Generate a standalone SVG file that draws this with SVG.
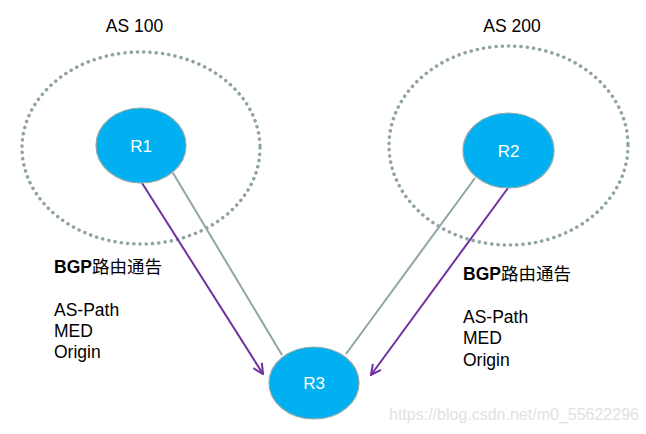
<svg xmlns="http://www.w3.org/2000/svg" width="646" height="434" viewBox="0 0 646 434">
<style>
.as{fill:none;stroke:#8FA3A5;stroke-width:3.5;stroke-dasharray:0.1 6.2;stroke-linecap:round}
.node{fill:#00B0F0;stroke:#95A9AA;stroke-width:1.2}
.nl{font-family:"Liberation Sans",Arial,sans-serif;font-size:17px;fill:#fff;text-anchor:middle}
.t{font-family:"Liberation Sans",Arial,sans-serif;font-size:17.5px;fill:#000}
.b{font-weight:bold}
.cjk{font-family:"Noto Sans CJK SC",sans-serif;font-weight:normal}
.link{stroke:#8FA5A6;stroke-width:2;fill:none}
.adv{stroke:#7030A0;stroke-width:2;fill:none;marker-end:url(#ah)}
.wm{font-family:"Liberation Sans",Arial,sans-serif;font-size:16px;fill:#E2E2E2}
</style>
<defs>
<marker id="ah" viewBox="0 0 12 12" refX="11" refY="6" markerWidth="12" markerHeight="12" markerUnits="userSpaceOnUse" orient="auto">
<path d="M1,1 L11,6 L1,11" fill="none" stroke="#7030A0" stroke-width="2"/>
</marker>
</defs>
<rect width="646" height="434" fill="#fff"/>
<g id="as100">
<ellipse class="as" cx="141" cy="148" rx="119" ry="96"/>
<text class="t" x="134.5" y="32" text-anchor="middle">AS 100</text>
</g>
<g id="as200">
<ellipse class="as" cx="508.5" cy="145.5" rx="119.5" ry="99.5"/>
<text class="t" x="512" y="32" text-anchor="middle">AS 200</text>
</g>
<g id="connectors">
<line class="link" x1="173" y1="173" x2="282" y2="355"/>
<line class="link" x1="475" y1="178" x2="346" y2="354"/>
<line class="adv" x1="142" y1="183" x2="263" y2="374"/>
<line class="adv" x1="508" y1="188" x2="371" y2="375"/>
</g>
<g id="R1">
<ellipse class="node" cx="141" cy="145.5" rx="45" ry="37.5"/>
<text class="nl" x="141" y="151.5">R1</text>
</g>
<g id="R2">
<ellipse class="node" cx="508.5" cy="150.5" rx="45.5" ry="37.5"/>
<text class="nl" x="508.5" y="156.5">R2</text>
</g>
<g id="R3">
<ellipse class="node" cx="314" cy="383" rx="45" ry="36"/>
<text class="nl" x="314" y="389">R3</text>
</g>
<g id="label-left">
<text class="t b" x="54" y="273">BGP<tspan class="cjk">路由通告</tspan></text>
<text class="t" x="54" y="316">AS-Path</text>
<text class="t" x="54" y="337">MED</text>
<text class="t" x="54" y="358">Origin</text>
</g>
<g id="label-right">
<text class="t b" x="463" y="280">BGP<tspan class="cjk">路由通告</tspan></text>
<text class="t" x="463" y="323">AS-Path</text>
<text class="t" x="463" y="344">MED</text>
<text class="t" x="463" y="366">Origin</text>
</g>
<text class="wm" x="389" y="420">https://blog.csdn.net/m0_55622296</text>
</svg>
